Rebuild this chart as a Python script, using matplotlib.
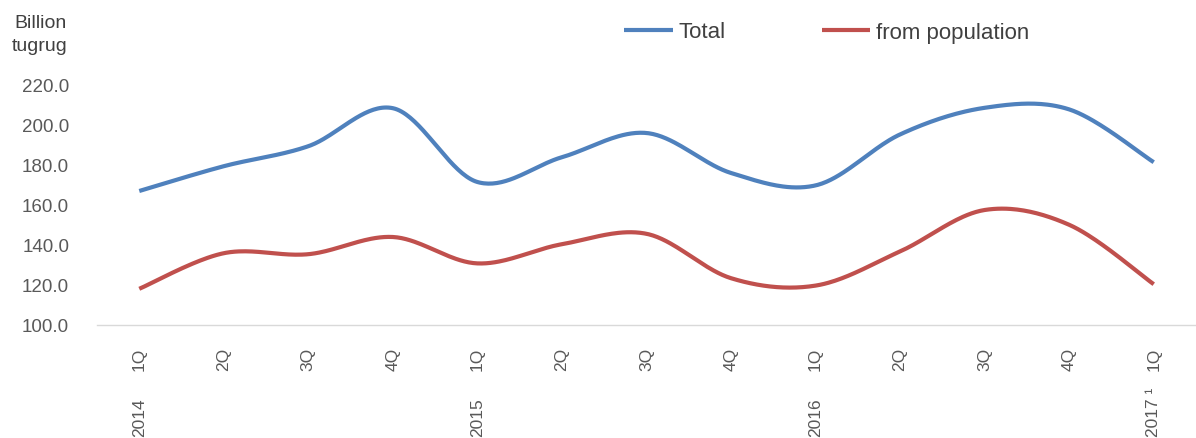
import numpy as np
import matplotlib
matplotlib.use("Agg")
import matplotlib.pyplot as plt
from matplotlib.transforms import blended_transform_factory

quarters = ["1Q", "2Q", "3Q", "4Q", "1Q", "2Q", "3Q", "4Q", "1Q", "2Q", "3Q", "4Q", "1Q"]
years = ["2014", "", "", "", "2015", "", "", "", "2016", "", "", "", "2017 \u00b9"]
total = [167.0, 179.4, 189.4, 208.4, 171.5, 183.9, 196.0, 176.0, 169.8, 195.3, 208.6, 207.8, 181.4]
population = [118.1, 135.9, 135.4, 144.0, 130.8, 140.4, 145.6, 123.4, 119.7, 136.8, 157.5, 150.1, 120.4]
series_names = ["Total", "from population"]
colors = ["#4F81BD", "#C0504D"]

plt.rcParams['font.family'] = ['Liberation Sans', 'DejaVu Sans']


def smooth(y, n=40):
    """Catmull-Rom curve through the points (like Excel's smoothed line)."""
    y = np.asarray(y, float)
    x = np.arange(len(y), dtype=float)
    P = np.column_stack([x, y])
    P = np.vstack([P[0], P, P[-1]])
    xs, ys = [], []
    t = np.linspace(0, 1, n)
    for i in range(1, len(P) - 2):
        p0, p1, p2, p3 = P[i - 1], P[i], P[i + 1], P[i + 2]
        m1 = (p2 - p0) / 2.0
        m2 = (p3 - p1) / 2.0
        h00 = 2 * t**3 - 3 * t**2 + 1
        h10 = t**3 - 2 * t**2 + t
        h01 = -2 * t**3 + 3 * t**2
        h11 = t**3 - t**2
        seg = (h00[:, None] * p1 + h10[:, None] * m1 + h01[:, None] * p2 + h11[:, None] * m2)
        xs.append(seg[:, 0]); ys.append(seg[:, 1])
    return np.concatenate(xs), np.concatenate(ys)


W, H = 1196, 439
fig = plt.figure(figsize=(W / 100, H / 100), dpi=100)
ax = fig.add_axes([97 / W, 1 - 326 / H, (1196 - 97) / W, (326 - 86) / H])

lines = []
for vals, c, name in zip([total, population], colors, series_names):
    xs, ys = smooth(vals)
    l, = ax.plot(xs, ys, color=c, lw=3.0, solid_capstyle='butt', label=name)
    lines.append(l)

ax.set_xlim(-0.5, len(quarters) - 0.5)
ax.set_ylim(100, 220)
ax.set_yticks(np.arange(100, 221, 20))
ax.set_yticklabels([f"{v:.1f}" for v in np.arange(100, 221, 20)])
ax.tick_params(axis='y', length=0, pad=20, labelsize=13.5, labelcolor='#595959')
ax.set_xticks(range(len(quarters)))
ax.set_xticklabels(quarters, rotation=90, va='top', ha='center')
ax.tick_params(axis='x', length=0, pad=16, labelsize=12.5, labelcolor='#595959')

trans = blended_transform_factory(ax.transData, ax.transAxes)
for i, yr in enumerate(years):
    if yr:
        ax.text(i, -(437 - 326) / 240, yr, rotation=90, va='bottom', ha='center',
                fontsize=12.5, color='#595959', transform=trans)

for s in ['top', 'right', 'left']:
    ax.spines[s].set_visible(False)
ax.spines['bottom'].set_color('#D9D9D9')
ax.spines['bottom'].set_linewidth(1.0)

fig.text(40 / W, 1 - 35 / H, "Billion\ntugrug", ha='center', va='center',
         fontsize=14, color='#404040', linespacing=1.45)

fig.legend(handles=lines, labels=series_names, loc='center left',
           bbox_to_anchor=(624 / W, 1 - 33 / H), ncol=2, frameon=False,
           fontsize=16, handlelength=2.2, handletextpad=0.27, columnspacing=4.3,
           borderpad=0, borderaxespad=0, labelcolor='#404040')

fig.savefig("out.png", dpi=100)
